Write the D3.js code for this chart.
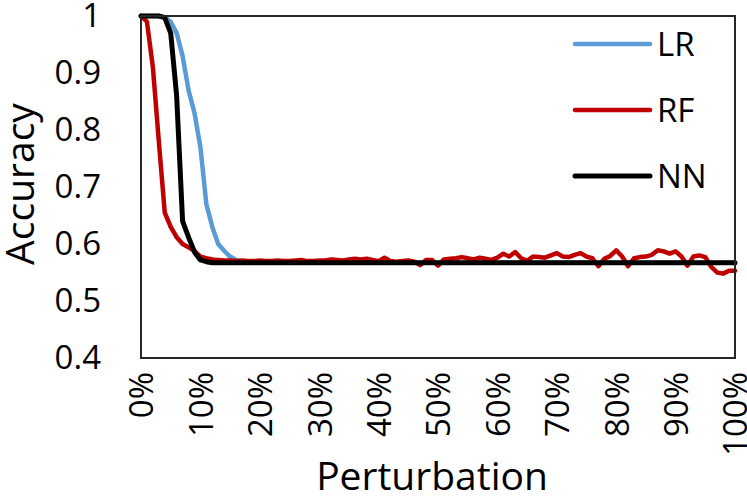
<!DOCTYPE html>
<html>
<head>
<meta charset="utf-8">
<script src="https://cdn.jsdelivr.net/npm/d3@7"></script>
<style>
	html, body { margin: 0; padding: 0; background: #fff; }
	svg text { font-family: 'Open Sans', sans-serif; fill: #000; }
</style>
</head>
<body>
<div id="canvas"></div>
<script>
/**
 * Accuracy vs perturbation
 */

// Data (one value per 1% of perturbation, 0..100)
var perturbation = d3.range(0, 101);

var lrValues = [
	1, 1, 1, 1, 0.998, 0.99, 0.97, 0.93, 0.87, 0.83,
	0.77, 0.67, 0.63, 0.60, 0.588, 0.578, 0.572, 0.569, 0.567, 0.567,
	0.567, 0.567, 0.567, 0.567, 0.567, 0.567, 0.567, 0.567, 0.567, 0.567,
	0.567, 0.567, 0.567, 0.567, 0.567, 0.567, 0.567, 0.567, 0.567, 0.567,
	0.567, 0.567, 0.567, 0.567, 0.567, 0.567, 0.567, 0.567, 0.567, 0.567,
	0.567, 0.567, 0.567, 0.567, 0.567, 0.567, 0.567, 0.567, 0.567, 0.567,
	0.567, 0.567, 0.567, 0.567, 0.567, 0.567, 0.567, 0.567, 0.567, 0.567,
	0.567, 0.567, 0.567, 0.567, 0.567, 0.567, 0.567, 0.567, 0.567, 0.567,
	0.567, 0.567, 0.567, 0.567, 0.567, 0.567, 0.567, 0.567, 0.567, 0.567,
	0.567, 0.567, 0.567, 0.567, 0.567, 0.567, 0.567, 0.567, 0.567, 0.567,
	0.567
];

var rfValues = [
	1, 0.99, 0.91, 0.78, 0.655, 0.63, 0.612, 0.600, 0.594, 0.588,
	0.578, 0.575, 0.573, 0.572, 0.571, 0.571, 0.570, 0.571, 0.570, 0.570,
	0.571, 0.570, 0.570, 0.571, 0.570, 0.570, 0.571, 0.572, 0.570, 0.570,
	0.571, 0.571, 0.573, 0.572, 0.571, 0.573, 0.574, 0.573, 0.574, 0.572,
	0.570, 0.576, 0.570, 0.569, 0.570, 0.571, 0.569, 0.563, 0.572, 0.572,
	0.562, 0.573, 0.574, 0.575, 0.577, 0.575, 0.573, 0.576, 0.574, 0.572,
	0.576, 0.583, 0.578, 0.586, 0.575, 0.571, 0.578, 0.577, 0.576, 0.580,
	0.584, 0.578, 0.577, 0.581, 0.584, 0.578, 0.575, 0.561, 0.574, 0.579,
	0.589, 0.578, 0.561, 0.575, 0.577, 0.578, 0.581, 0.589, 0.587, 0.583,
	0.587, 0.578, 0.562, 0.578, 0.580, 0.577, 0.560, 0.550, 0.548, 0.553,
	0.553
];

var nnValues = [
	1, 1, 1, 1, 0.997, 0.97, 0.86, 0.64, 0.612, 0.586,
	0.572, 0.569, 0.567, 0.567, 0.567, 0.567, 0.567, 0.567, 0.567, 0.567,
	0.567, 0.567, 0.567, 0.567, 0.567, 0.567, 0.567, 0.567, 0.567, 0.567,
	0.567, 0.567, 0.567, 0.567, 0.567, 0.567, 0.567, 0.567, 0.567, 0.567,
	0.567, 0.567, 0.567, 0.567, 0.567, 0.567, 0.567, 0.567, 0.567, 0.567,
	0.567, 0.567, 0.567, 0.567, 0.567, 0.567, 0.567, 0.567, 0.567, 0.567,
	0.567, 0.567, 0.567, 0.567, 0.567, 0.567, 0.567, 0.567, 0.567, 0.567,
	0.567, 0.567, 0.567, 0.567, 0.567, 0.567, 0.567, 0.567, 0.567, 0.567,
	0.567, 0.567, 0.567, 0.567, 0.567, 0.567, 0.567, 0.567, 0.567, 0.567,
	0.567, 0.567, 0.567, 0.567, 0.567, 0.567, 0.567, 0.567, 0.567, 0.567,
	0.567
];

var xTicks = [0, 10, 20, 30, 40, 50, 60, 70, 80, 90, 100],
	xTickLabels = ['0%', '10%', '20%', '30%', '40%', '50%', '60%', '70%', '80%', '90%', '100%'],
	yTicks = [0.4, 0.5, 0.6, 0.7, 0.8, 0.9, 1],
	yTickLabels = ['0.4', '0.5', '0.6', '0.7', '0.8', '0.9', '1'];

var seriesNames = ['LR', 'RF', 'NN'],
	seriesValues = [lrValues, rfValues, nnValues],
	seriesColors = ['#5B9BD5', '#C00000', '#000000'];

// UI
var width = 747,
	height = 497,
	plot = { left: 141, right: 735, top: 16, bottom: 358 },
	fontSize = 33;

var svg = d3.select('#canvas').append('svg')
	.attr('width', width)
	.attr('height', height);

var x = d3.scaleLinear().domain([0, 100]).range([plot.left, plot.right]),
	y = d3.scaleLinear().domain([0.4, 1]).range([plot.bottom, plot.top]);

// Y axis labels
svg.append('g')
	.attr('transform', 'translate(' + plot.left + ',0)')
	.call(d3.axisLeft(y)
		.tickValues(yTicks)
		.tickSize(0)
		.tickPadding(40)
		.tickFormat(function(d, i) { return yTickLabels[i]; }))
	.call(function(g) {
		g.select('.domain').remove();
		g.selectAll('text')
			.attr('font-size', fontSize)
			.attr('font-family', null);
	});

// X axis labels (rotated)
svg.append('g')
	.attr('transform', 'translate(0,' + plot.bottom + ')')
	.call(d3.axisBottom(x)
		.tickValues(xTicks)
		.tickSize(0)
		.tickFormat(function(d, i) { return xTickLabels[i]; }))
	.call(function(g) {
		g.select('.domain').remove();
		g.selectAll('text')
			.attr('font-size', fontSize)
			.attr('font-family', null)
			.attr('transform', 'rotate(-90)')
			.attr('text-anchor', 'end')
			.attr('x', -14)
			.attr('y', 0)
			.attr('dy', '0.36em');
	});

// Series lines
var line = d3.line()
	.x(function(d, i) { return x(perturbation[i]); })
	.y(function(d) { return y(d); });

svg.append('g')
	.selectAll('path')
	.data(seriesValues)
	.join('path')
		.attr('d', line)
		.attr('fill', 'none')
		.attr('stroke', function(d, i) { return seriesColors[i]; })
		.attr('stroke-width', function(d, i) { return i == 2 ? 5 : 4.5; })
		.attr('stroke-linejoin', 'round')
		.attr('stroke-linecap', 'round');

// Plot area border
svg.append('rect')
	.attr('x', plot.left)
	.attr('y', plot.top)
	.attr('width', plot.right - plot.left)
	.attr('height', plot.bottom - plot.top)
	.attr('fill', 'none')
	.attr('stroke', '#262626')
	.attr('stroke-width', 2);

// Legend
var legend = svg.append('g')
	.selectAll('g')
	.data(seriesNames)
	.join('g')
		.attr('transform', function(d, i) { return 'translate(575,' + (44 + i * 66) + ')'; });

legend.append('line')
	.attr('x1', 0)
	.attr('x2', 75)
	.attr('stroke', function(d, i) { return seriesColors[i]; })
	.attr('stroke-width', function(d, i) { return i == 2 ? 5 : 4.5; })
	.attr('stroke-linecap', 'round');

legend.append('text')
	.attr('x', 82)
	.attr('dy', '0.36em')
	.attr('font-size', fontSize)
	.text(function(d) { return d; });

// Axis titles
svg.append('text')
	.attr('x', 432)
	.attr('y', 490)
	.attr('text-anchor', 'middle')
	.attr('font-size', 39)
	.text('Perturbation');

svg.append('text')
	.attr('transform', 'translate(34,184) rotate(-90)')
	.attr('text-anchor', 'middle')
	.attr('font-size', 39)
	.text('Accuracy');
</script>
</body>
</html>
